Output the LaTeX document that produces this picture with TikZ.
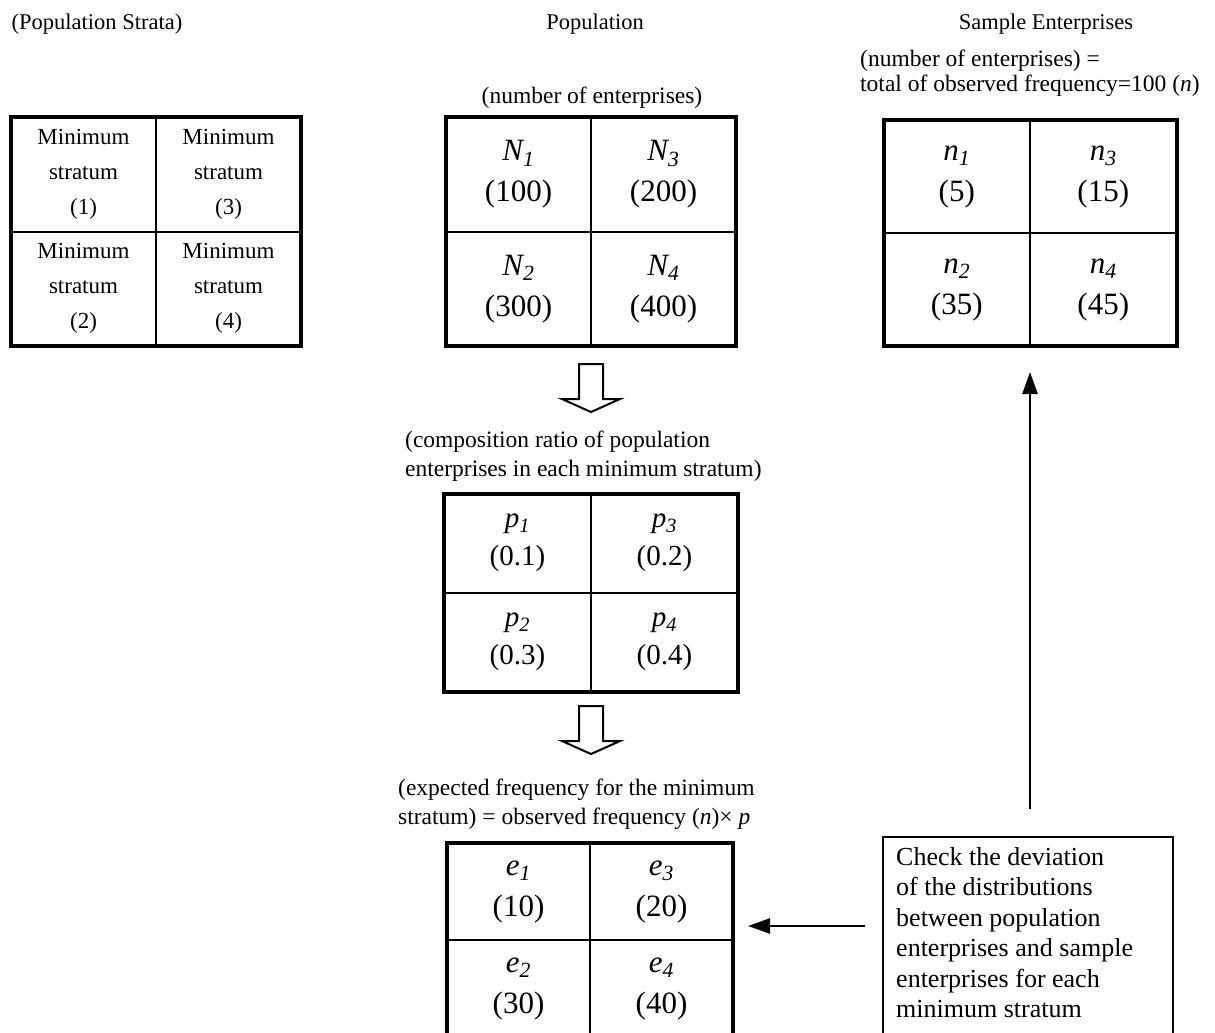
\documentclass[tikz,border=0pt]{standalone}
\usepackage{fontspec}
\setmainfont{Liberation Serif}
\usetikzlibrary{calc,arrows.meta}
\tikzset{
  tbl/.style={draw, line width=4pt, inner sep=0pt, outer sep=0pt},
  divider/.style={line width=2pt},
  smalltxt/.style={font=\fontsize{23}{35}\selectfont, align=center, inner sep=0pt},
  bigtxt/.style={font=\fontsize{31}{41}\selectfont, align=center, inner sep=0pt},
  midtxt/.style={font=\fontsize{29}{38}\selectfont, align=center, inner sep=0pt},
  lbl/.style={font=\fontsize{22.5}{28}\selectfont, inner sep=0pt},
  lbltwo/.style={font=\fontsize{23.5}{29}\selectfont, inner sep=0pt, align=left, anchor=north west},
  conn/.style={line width=2.5pt, -{Triangle[length=22pt,width=15pt]}},
  hollowdown/.pic={\draw[line width=2pt, fill=white] (-12,0) -- (-12,35) -- (-29,35) -- (0,48) -- (29,35) -- (12,35) -- (12,0) -- cycle;}
}
\begin{document}
\begin{tikzpicture}[x=1pt,y=-1pt]
\useasboundingbox (0,0) rectangle (1215,1033);
\fill[white] (0,0) rectangle (1215,1033);
\clip (0,0) rectangle (1215,1033);

% headers
\node[lbl] (hstrata) at (97,24) {(Population Strata)};
\node[lbl] (hpop) at (595,24) {Population};
\node[lbl] (hsample) at (1046,24) {Sample Enterprises};

% left table
\node[tbl, minimum width=290pt, minimum height=229pt] (L) at (156,231.5) {};
\draw[divider] (L.north) -- (L.south);
\draw[divider] (L.west) -- (L.east);
\node[smalltxt] (L1) at ($(L.center)!0.5!(L.north west)$) {Minimum\\stratum\\(1)};
\node[smalltxt] (L3) at ($(L.center)!0.5!(L.north east)$) {Minimum\\stratum\\(3)};
\node[smalltxt] (L2) at ($(L.center)!0.5!(L.south west)$) {Minimum\\stratum\\(2)};
\node[smalltxt] (L4) at ($(L.center)!0.5!(L.south east)$) {Minimum\\stratum\\(4)};

% population table
\node[lbltwo, anchor=center, align=center] (hnum) at (592,98) {(number of enterprises)};
\node[tbl, minimum width=290pt, minimum height=229pt] (N) at (591,231.5) {};
\draw[divider] (N.north) -- (N.south);
\draw[divider] (N.west) -- (N.east);
\node[bigtxt] (N1) at ($(N.center)!0.5!(N.north west)$) {\itshape N\textsubscript{1}\\(100)};
\node[bigtxt] (N3) at ($(N.center)!0.5!(N.north east)$) {\itshape N\textsubscript{3}\\(200)};
\node[bigtxt] (N2) at ($(N.center)!0.5!(N.south west)$) {\itshape N\textsubscript{2}\\(300)};
\node[bigtxt] (N4) at ($(N.center)!0.5!(N.south east)$) {\itshape N\textsubscript{4}\\(400)};

% sample table
\node[lbltwo, font=\fontsize{23.5}{25}\selectfont] (hsnum) at (860,50) {(number of enterprises) =\\total of observed frequency=100 (\textit{n})};
\node[tbl, minimum width=293pt, minimum height=226pt] (S) at (1030,233) {};
\draw[divider] (S.north) -- (S.south);
\draw[divider] (S.west) -- (S.east);
\node[bigtxt] (S1) at ($(S.center)!0.5!(S.north west)$) {\itshape n\textsubscript{1}\\(5)};
\node[bigtxt] (S3) at ($(S.center)!0.5!(S.north east)$) {\itshape n\textsubscript{3}\\(15)};
\node[bigtxt] (S2) at ($(S.center)!0.5!(S.south west)$) {\itshape n\textsubscript{2}\\(35)};
\node[bigtxt] (S4) at ($(S.center)!0.5!(S.south east)$) {\itshape n\textsubscript{4}\\(45)};

% hollow arrow 1
\pic at (591,364) {hollowdown};

% ratio table
\node[lbltwo] (hratio) at (405,431) {(composition ratio of population\\enterprises in each minimum stratum)};
\node[tbl, minimum width=294pt, minimum height=198pt] (P) at (591,592.5) {};
\draw[divider] (P.north) -- (P.south);
\draw[divider] (P.west) -- (P.east);
\node[midtxt] (P1) at ($(P.center)!0.5!(P.north west)$) {\itshape p\textsubscript{1}\\(0.1)};
\node[midtxt] (P3) at ($(P.center)!0.5!(P.north east)$) {\itshape p\textsubscript{3}\\(0.2)};
\node[midtxt] (P2) at ($(P.center)!0.5!(P.south west)$) {\itshape p\textsubscript{2}\\(0.3)};
\node[midtxt] (P4) at ($(P.center)!0.5!(P.south east)$) {\itshape p\textsubscript{4}\\(0.4)};

% hollow arrow 2
\pic at (591,706) {hollowdown};

% expected table
\node[lbltwo] (hexp) at (398,779) {(expected frequency for the minimum\\stratum) = observed frequency (\textit{n})\texttimes\ \textit{p}};
\node[tbl, minimum width=286pt, minimum height=194pt] (E) at (590,940) {};
\draw[divider] (E.north) -- (E.south);
\draw[divider] (E.west) -- (E.east);
\node[bigtxt] (E1) at ($(E.center)!0.5!(E.north west)$) {\itshape e\textsubscript{1}\\(10)};
\node[bigtxt] (E3) at ($(E.center)!0.5!(E.north east)$) {\itshape e\textsubscript{3}\\(20)};
\node[bigtxt] (E2) at ($(E.center)!0.5!(E.south west)$) {\itshape e\textsubscript{2}\\(30)};
\node[bigtxt] (E4) at ($(E.center)!0.5!(E.south east)$) {\itshape e\textsubscript{4}\\(40)};

% check box
\node[draw, line width=1.8pt, minimum width=290pt, minimum height=230pt, anchor=north west, inner sep=0pt] (C) at (882,836) {};
\node[lbltwo, font=\fontsize{26}{30.5}\selectfont] (Ctext) at (896,847) {Check the deviation\\of the distributions\\between population\\enterprises and sample\\enterprises for each\\minimum stratum};

% connectors
\coordinate (upbase) at (C.north -| S.center);
\draw[conn, shorten <=27pt, shorten >=26pt] (upbase) -- (S.south);
\coordinate (leftstart) at (865,926);
\draw[conn, shorten >=15pt] (leftstart) -- (leftstart -| E.east);
\end{tikzpicture}
\end{document}
